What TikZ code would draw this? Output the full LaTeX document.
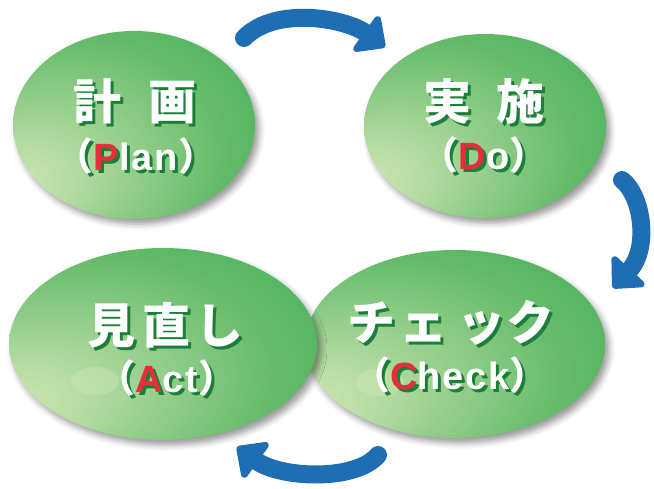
\documentclass[tikz,border=0pt]{standalone}
\usepackage{fontspec}
\usetikzlibrary{arrows.meta,shadows.blur,shapes.geometric}
\newfontfamily\jpf{Noto Sans CJK JP}
\newfontfamily\latf{Liberation Sans}[LetterSpace=5]
\definecolor{eggpale}{HTML}{D8EAB8}
\definecolor{egglight}{HTML}{A8D699}
\definecolor{eggmid}{HTML}{64BB6A}
\definecolor{eggdeep}{HTML}{3DAC56}
\definecolor{eggedge}{HTML}{29A147}
\definecolor{tshadow}{HTML}{1B7F3A}
\definecolor{pdcared}{HTML}{E2303A}
\definecolor{arrowblue}{HTML}{1F6DB2}
\pgfdeclareradialshading{eggshade}{\pgfpoint{-28bp}{-18bp}}{color(0bp)=(eggpale); color(13bp)=(egglight); color(30bp)=(eggmid); color(45bp)=(eggdeep); color(50bp)=(eggedge)}
\newcommand\sublabel[3]{{\jpf\bfseries （}\textcolor{#1}{#2}#3{\jpf\bfseries ）}}
\tikzset{
  egg/.style={ellipse, inner sep=0pt, shading=eggshade,
    blur shadow={shadow xshift=4pt, shadow yshift=-5pt, shadow blur radius=6pt, shadow opacity=40}},
  ttl/.style={font=\jpf\bfseries\fontsize{48}{50}\selectfont, text=white, inner sep=0pt},
  ttlsh/.style={ttl, text=tshadow},
  sub/.style={font=\latf\bfseries\fontsize{38}{40}\selectfont, text=white, inner sep=0pt},
  subsh/.style={sub, text=tshadow},
  spot/.style={fill=eggpale, opacity=0.35},
  cyc/.style={draw=arrowblue, line width=18pt, line cap=round, -{Triangle[length=27pt,width=50pt,round]}}
}
\begin{document}
\begin{tikzpicture}[x=1pt,y=-1pt]
\useasboundingbox (0,0) rectangle (654,488);
% ellipses
\node[egg, minimum width=242pt, minimum height=188pt] (plan) at (134,125) {};
\node[egg, minimum width=242pt, minimum height=184pt] (do) at (485,126) {};
\node[egg, minimum width=300pt, minimum height=188pt] (check) at (455,344) {};
\fill[spot] (380,382) ellipse (24 and 14);
\node[egg, minimum width=308pt, minimum height=192pt] (act) at (163,344) {};
\fill[spot] (95,381) ellipse (24 and 14);
% Plan
\node[ttlsh] (plan-ts) at (138,104) {計\hspace{27pt}画};
\node[ttl] (plan-t) at (135,101) {計\hspace{27pt}画};
\node[subsh] (plan-ss) at (139,159) {\sublabel{tshadow}{P}{lan}};
\node[sub] (plan-s) at (136,156) {\sublabel{pdcared}{P}{lan}};
% Do
\node[ttlsh] (do-ts) at (487,104) {実\hspace{26pt}施};
\node[ttl] (do-t) at (484,101) {実\hspace{26pt}施};
\node[subsh] (do-ss) at (487,158) {\sublabel{tshadow}{D}{o}};
\node[sub] (do-s) at (484,155) {\sublabel{pdcared}{D}{o}};
% Check
\node[ttlsh] (check-ts) at (454,326) {チ\hspace{5pt}ェ\hspace{10pt}ッ\hspace{1pt}ク};
\node[ttl] (check-t) at (451,323) {チ\hspace{5pt}ェ\hspace{10pt}ッ\hspace{1pt}ク};
\node[subsh] (check-ss) at (453,378) {\sublabel{tshadow}{C}{heck}};
\node[sub] (check-s) at (450,375) {\sublabel{pdcared}{C}{heck}};
% Act
\node[ttlsh] (act-ts) at (168,328) {見\hspace{8pt}直\hspace{4pt}し};
\node[ttl] (act-t) at (165,325) {見\hspace{8pt}直\hspace{4pt}し};
\node[subsh] (act-ss) at (170,381) {\sublabel{tshadow}{A}{ct}};
\node[sub] (act-s) at (167,378) {\sublabel{pdcared}{A}{ct}};
% arrows
\coordinate (a1s) at (244,38);
\coordinate (a1e) at (385,47);
\coordinate (a2s) at (622,180);
\coordinate (a2e) at (613,288);
\coordinate (a3s) at (378,455);
\coordinate (a3e) at (237,447);
\draw[cyc] (a1s) .. controls (275,6) and (345,18) .. (a1e);
\draw[cyc] (a2s) .. controls (642,195) and (650,248) .. (a2e);
\draw[cyc] (a3s) .. controls (355,482) and (280,478) .. (a3e);
\end{tikzpicture}
\end{document}
